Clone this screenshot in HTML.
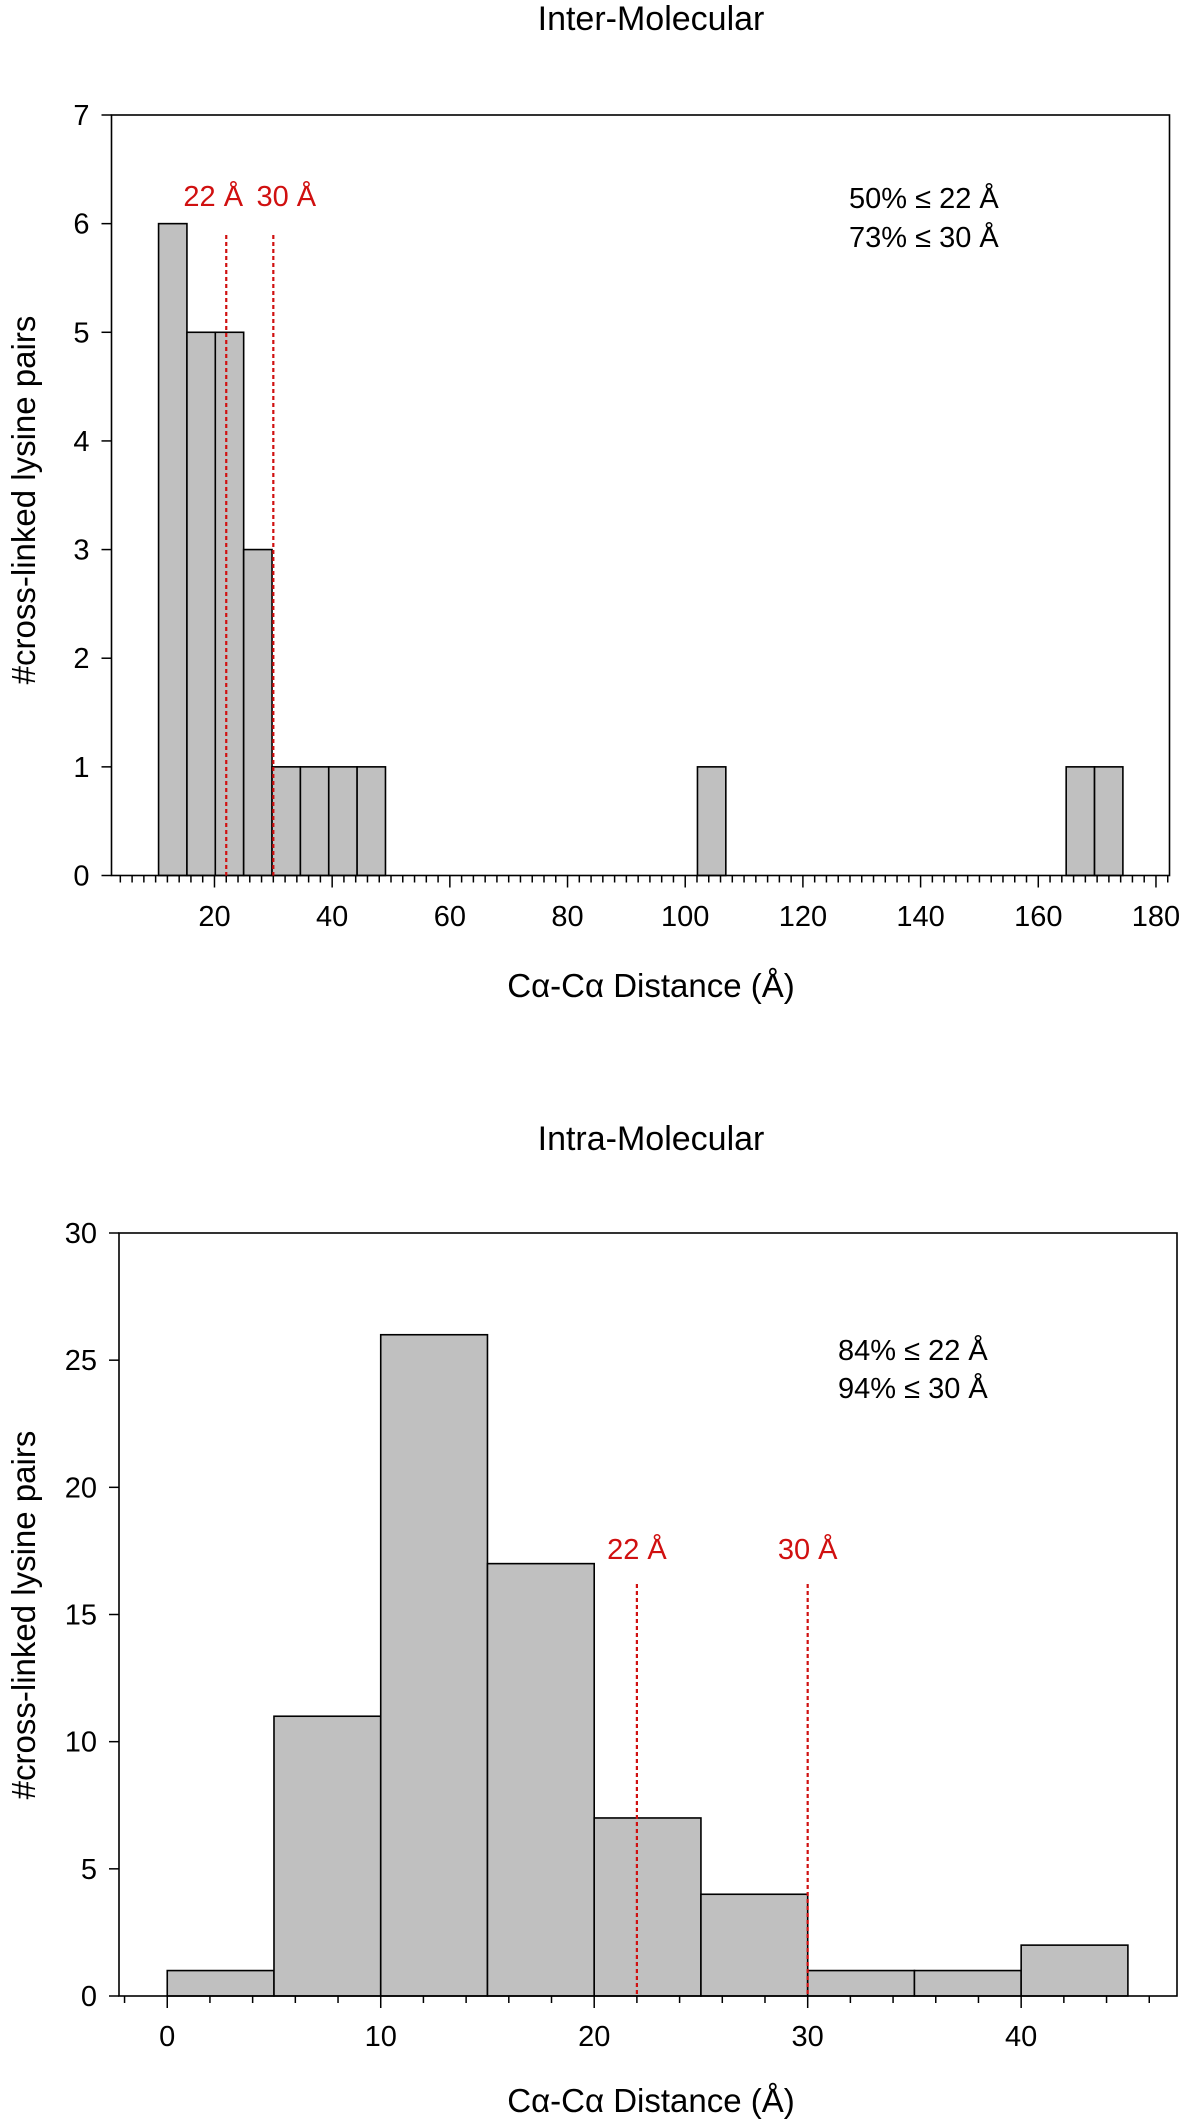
<!DOCTYPE html>
<html><head><meta charset="utf-8"><style>
body{margin:0;background:#fff;}
svg{display:block;font-family:"Liberation Sans",Arial,sans-serif;}
</style></head><body>
<svg id="svg" width="1181" height="2121" viewBox="0 0 1181 2121" xmlns="http://www.w3.org/2000/svg"></svg>
<script>
// Inter-molecular histogram data
const interBinStart = 10.5;
const interBinWidth = 4.82;
const interCounts = [6,5,5,3,1,1,1,1,0,0,0,0,0,0,0,0,0,0,0,1,0,0,0,0,0,0,0,0,0,0,0,0,1,1];
const interXTicks = [20,40,60,80,100,120,140,160,180];
const interYTicks = [0,1,2,3,4,5,6,7];
const interCutoffs = [22,30];
const interStats = ["50% ≤ 22 Å","73% ≤ 30 Å"];
// Intra-molecular histogram data
const intraBinStart = 0;
const intraBinWidth = 5;
const intraCounts = [1,11,26,17,7,4,1,1,2];
const intraXTicks = [0,10,20,30,40];
const intraYTicks = [0,5,10,15,20,25,30];
const intraCutoffs = [22,30];
const intraStats = ["84% ≤ 22 Å","94% ≤ 30 Å"];

const NS="http://www.w3.org/2000/svg";
const svg=document.getElementById('svg');
function mk(tag,attrs,parent){const e=document.createElementNS(NS,tag);for(const k in attrs)e.setAttribute(k,attrs[k]);(parent||svg).appendChild(e);return e;}

function chart(o){
  const g=mk('g',{});
  
  
  const sx=v=>o.L+(v-o.xmin)/(o.xmax-o.xmin)*(o.R-o.L);
  const sy=v=>o.B-(v-o.ymin)/(o.ymax-o.ymin)*(o.B-o.T);
  let t=mk('text',{x:651,y:o.titleY,'font-size':34,'text-anchor':'middle'},g);t.textContent=o.title;
  
  
  o.counts.forEach((c,i)=>{
    if(c<=0)return;
    const x0=o.bs+i*o.bw,x1=x0+o.bw;
    const r=mk('rect',{x:sx(x0),y:sy(c),width:sx(x1)-sx(x0),height:sy(0)-sy(c),fill:'#c0c0c0',stroke:'#000','stroke-width':1.6},g);
    
    
  });
  const f=mk('rect',{x:o.L,y:o.T,width:o.R-o.L,height:o.B-o.T,fill:'none',stroke:'#000','stroke-width':1.6},g);
  
  
  o.cutoffs.forEach((c,i)=>{
    const l=mk('line',{x1:sx(c),x2:sx(c),y1:o.lineTop,y2:o.B,stroke:'#d01010','stroke-width':2.2,'stroke-dasharray':'4,3'},g);
    
    
    const tx=mk('text',{x:sx(c)+(o.labOff?o.labOff[i]:0),y:o.labY,'font-size':29,fill:'#d01010','text-anchor':'middle'},g);
    tx.textContent=c+' Å';
    
    
  });
  o.stats.forEach((s,i)=>{
    const tx=mk('text',{x:o.statX,y:o.statY[i],'font-size':29},g);tx.textContent=s;
    
    
  });
  for(let v=o.minorStart;v<=o.xmax;v+=o.minorStep){
    const major=o.xticks.includes(v);
    mk('line',{x1:sx(v),x2:sx(v),y1:o.B,y2:o.B+(major?12:7),stroke:'#000','stroke-width':1.5},g);
  }
  o.xticks.forEach(v=>{
    const tx=mk('text',{x:sx(v),y:o.xTickY,'font-size':29,'text-anchor':'middle'},g);tx.textContent=v;
    
    
  });
  o.yticks.forEach(v=>{
    mk('line',{x1:o.L-10,x2:o.L,y1:sy(v),y2:sy(v),stroke:'#000','stroke-width':1.5},g);
    const tx=mk('text',{x:o.L-22,y:sy(v)+10,'font-size':29,'text-anchor':'end'},g);tx.textContent=v;
    
    
  });
  let xl=mk('text',{x:651,y:o.xLabY,'font-size':33,'text-anchor':'middle'},g);xl.textContent='Cα-Cα Distance (Å)';
  
  
  let yl=mk('text',{x:0,y:0,'font-size':33,'text-anchor':'middle',transform:`translate(35,${o.yLabY}) rotate(-90)`},g);yl.textContent='#cross-linked lysine pairs';
  
  
}

chart({name:'inter-molecular-chart',title:'Inter-Molecular',titleY:30,L:111.5,R:1169.5,T:115,B:875.5,
  xmin:2.5,xmax:182.3,ymin:0,ymax:7,bs:interBinStart,bw:interBinWidth,counts:interCounts,
  cutoffs:interCutoffs,lineTop:235,labY:206,labOff:[-13,13],stats:interStats,statX:849,statY:[208,247],
  minorStart:4,minorStep:2,xticks:interXTicks,yticks:interYTicks,xTickY:926,xLabY:997,yLabY:500});
chart({name:'intra-molecular-chart',title:'Intra-Molecular',titleY:1150,L:119,R:1177,T:1233,B:1996,
  xmin:-2.26,xmax:47.3,ymin:0,ymax:30,bs:intraBinStart,bw:intraBinWidth,counts:intraCounts,
  cutoffs:intraCutoffs,lineTop:1584,labY:1559,stats:intraStats,statX:838,statY:[1360,1398],
  minorStart:-2,minorStep:2,xticks:intraXTicks,yticks:intraYTicks,xTickY:2046,xLabY:2112,yLabY:1615});
</script>
</body></html>
